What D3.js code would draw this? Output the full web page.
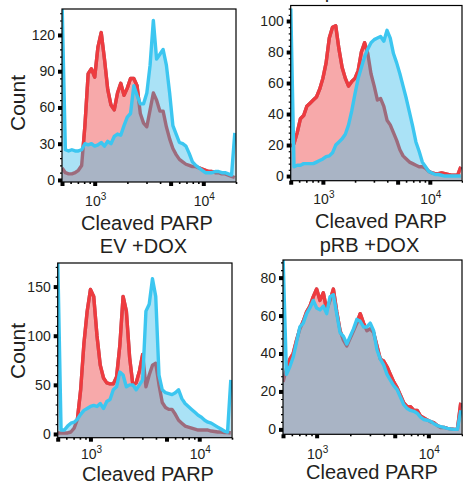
<!DOCTYPE html>
<html>
<head>
<meta charset="utf-8">
<script src="https://cdn.jsdelivr.net/npm/d3@7"></script>
<style>
body { margin: 0; background: #fff; }
svg { display: block; font-family: "Liberation Sans", Arial, sans-serif; }
</style>
</head>
<body>
<div id="chart"></div>
<script>
// bin centres, log10 of Cleaved PARP intensity
var binLog = [2.70,2.73,2.76,2.79,2.82,2.85,2.88,2.91,2.94,2.97,3.00,3.03,3.06,3.09,3.12,3.15,3.18,3.21,3.24,3.27,
    3.30,3.33,3.36,3.39,3.42,3.45,3.48,3.51,3.54,3.57,3.60,3.63,3.66,3.69,3.72,3.75,3.78,3.81,3.84,3.87,
    3.90,3.93,3.96,3.99,4.02,4.05,4.08,4.11,4.14,4.17,4.20,4.23,4.26,4.29];

// EV -DOX
var evMinusRed = [10,6,5,5,6,8,12,45,88,92,85,110,122,100,75,62,58,72,80,70,
    76,84,84,78,55,47,44,58,72,66,57,57,44,34,26,21,17,15,13,12,
    11,11,10,9,8,7,7,6,6,5,5,4,3,2];
var evMinusBlue = [145,25,24,25,24,24,25,30,29,30,28,29,31,28,32,30,36,38,37,45,
    52,55,78,70,63,63,72,95,132,100,104,108,95,72,45,38,31,30,28,22,
    15,12,10,8,6,6,6,7,7,6,6,5,4,39];

// pRB -DOX
var prbMinusRed = [19,21,28,37,39,45,47,49,51,56,63,73,89,96,97,82,70,63,58,61,
    63,68,80,86,79,66,58,49,50,45,36,33,28,23,17,13,11,9,8,7,
    6,6,5,3,2,1.5,1.5,2,1.5,1,0.5,0.5,0.5,6];
var prbMinusBlue = [108,6,7,7,8,8,8,8,9,10,11,12.5,13,15,20,22,24,27,33,42,
    53,63,70,77,82,86,88,89,90,87,94,89,79,73,66,58,50,41,32,22,
    16,9,6,3,2,1,1,0.5,0,0,0,0,0,0];

// EV +DOX
var evPlusRed = [1,1,1,1,2,6,15,45,92,125,147,140,100,70,57,52,51,51,58,90,
    140,125,78,50,52,64,81,48,60,70,72,50,32,27,25,25,20,14,11,8,
    7,6,5,4,4,4,4,3,2.5,2,2,1.5,1.5,1];
var evPlusBlue = [175,4,4,8,11,12,15,20,24,26,28,29,28,31,26,33,35,45,48,63,
    60,48,50,50,45,50,55,125,132,158,140,60,45,42,41,40,42,45,36,31,
    28,25,22,19,17,14,12,11,9,7,5,3,2,55];

// pRB +DOX
var prbPlusRed = [25,32,37,40,47,53,57,62,65,70,74,68,72,63,68,74,62,52,47,44,
    48,52,56,61,56,52,53,51,44,37,36,33,29,25,22,18,14,12,12,10,
    10,7,6,5,4,3.5,2,1,1,0.5,0.2,0,0,14];
var prbPlusBlue = [90,29,33,38,46,54,56,61,64,68,64,63,65,61,70,71,61,51,49,45,
    49,53,58,57,54,54,56,52,42,37,34,29,26,23,21,17,13,11,10,9.5,
    8.5,6.5,5.2,4.8,4.2,3,2,1.5,1,0.5,0.2,0,0,10];

var titles = ["EV -DOX", "pRB -DOX", "EV +DOX", "pRB +DOX"];
var yTicksList = [[0,30,60,90,120], [0,20,40,60,80,100], [0,50,100,150], [0,20,40,60,80]];
var xLabelTicks = [1000, 10000];
var xMajor = [500, 1000, 5000, 10000];
var xTitle = "Cleaved PARP";
var yTitle = "Count";

var colors = {
    red: "#ee3b3f", pink: "#f7a9aa",
    blue: "#3cc6f0", lightBlue: "#aae2f6",
    overlap: "#a9b4c5", mauve: "#9d6b7c",
    text: "#231f20"
};

// layout of the four panels
var panels = [
    {red: evMinusRed, blue: evMinusBlue, left: 62, right: 236, top: 9, bottom: 182, yDomain: [-1.7, 141.5],
        titleY: null, titleX: 149, countY: 103, xLabelX: 147, tickLabelY: 206, xLabelY: 230},
    {red: prbMinusRed, blue: prbMinusBlue, left: 290.7, right: 462, top: 5.5, bottom: 180.7, yDomain: [-3, 110],
        titleY: -2, titleX: 372, countY: null, xLabelX: 381, tickLabelY: 204, xLabelY: 228},
    {red: evPlusRed, blue: evPlusBlue, left: 57.7, right: 232, top: 263, bottom: 437.7, yDomain: [-3.8, 174],
        titleY: 253, titleX: 143.5, countY: 351, xLabelX: 148, tickLabelY: 459, xLabelY: 481},
    {red: prbPlusRed, blue: prbPlusBlue, left: 283, right: 462, top: 260, bottom: 434.3, yDomain: [-2.6, 89.3],
        titleY: 252, titleX: 369.5, countY: null, xLabelX: 372, tickLabelY: 459, xLabelY: 479}
];

var svg = d3.select("#chart").append("svg")
    .attr("width", 463)
    .attr("height", 489);
var defs = svg.append("defs");

function drawPanel(p, idx) {
    var x = d3.scaleLog().domain([500, 20000]).range([p.left, p.right]);
    var y = d3.scaleLinear().domain(p.yDomain).range([p.bottom, p.top]);
    var yTicks = yTicksList[idx];

    var bins = binLog.map(function(l, i) {
        return {v: Math.pow(10, l), red: p.red[i], blue: p.blue[i]};
    });

    defs.append("clipPath").attr("id", "plot" + idx)
        .append("rect")
        .attr("x", p.left).attr("y", p.top)
        .attr("width", p.right - p.left).attr("height", p.bottom - p.top);

    // region above the blue curve, where the red line stays red
    defs.append("clipPath").attr("id", "above" + idx)
        .append("path").datum(bins)
        .attr("d", d3.area().x(d => x(d.v)).y0(p.top - 10).y1(d => y(d.blue)));

    var g = svg.append("g");
    var plot = g.append("g").attr("clip-path", "url(#plot" + idx + ")");

    var areaOf = function(f) {
        return d3.area().x(d => x(d.v)).y0(p.bottom).y1(d => y(f(d)));
    };
    var redLine = d3.line().x(d => x(d.v)).y(d => y(d.red));
    var blueLine = d3.line().x(d => x(d.v)).y(d => y(d.blue));

    plot.append("path").datum(bins).attr("d", areaOf(d => d.red)).attr("fill", colors.pink);
    plot.append("path").datum(bins).attr("d", areaOf(d => d.blue)).attr("fill", colors.lightBlue);
    plot.append("path").datum(bins).attr("d", areaOf(d => Math.min(d.red, d.blue))).attr("fill", colors.overlap);

    plot.append("path").datum(bins).attr("d", redLine)
        .attr("fill", "none").attr("stroke", colors.mauve)
        .attr("stroke-width", 3.4).attr("stroke-linejoin", "round");
    plot.append("g").attr("clip-path", "url(#above" + idx + ")")
        .append("path").datum(bins).attr("d", redLine)
        .attr("fill", "none").attr("stroke", colors.red)
        .attr("stroke-width", 3.4).attr("stroke-linejoin", "round");
    plot.append("path").datum(bins).attr("d", blueLine)
        .attr("fill", "none").attr("stroke", colors.blue)
        .attr("stroke-width", 3.4).attr("stroke-linejoin", "round");

    // frame
    g.append("rect")
        .attr("x", p.left).attr("y", p.top)
        .attr("width", p.right - p.left).attr("height", p.bottom - p.top)
        .attr("fill", "none").attr("stroke", "#000").attr("stroke-width", 1.2);

    // x axis: square ticks for majors, dots for minors
    var xAxis = g.append("g").attr("transform", "translate(0," + p.bottom + ")")
        .call(d3.axisBottom(x).tickValues(x.ticks()).tickSizeOuter(0).tickFormat(""));
    xAxis.select(".domain").remove();
    xAxis.selectAll(".tick line")
        .attr("y2", d => xMajor.indexOf(d) >= 0 ? 4 : 2)
        .attr("stroke-width", d => xMajor.indexOf(d) >= 0 ? 4 : 1.6);

    g.selectAll(".xlab").data(xLabelTicks).enter().append("text")
        .attr("x", d => x(d) + 1)
        .attr("y", p.tickLabelY)
        .attr("text-anchor", "middle")
        .attr("font-size", 14)
        .attr("fill", colors.text)
        .each(function(d) {
            var t = d3.select(this);
            t.append("tspan").text("10");
            t.append("tspan").attr("font-size", 10).attr("dy", -6).text(Math.round(Math.log10(d)));
        });

    // y axis
    var step = yTicks[1] - yTicks[0];
    var minor = d3.range(0, p.yDomain[1], step / 5).filter(v => yTicks.indexOf(v) < 0);
    var yMinor = g.append("g").attr("transform", "translate(" + p.left + ",0)")
        .call(d3.axisLeft(y).tickValues(minor).tickSize(2).tickSizeOuter(0).tickFormat(""));
    yMinor.select(".domain").remove();
    yMinor.selectAll(".tick line").attr("stroke-width", 1.2);

    var yAxis = g.append("g").attr("transform", "translate(" + p.left + ",0)")
        .call(d3.axisLeft(y).tickValues(yTicks).tickSize(4).tickSizeOuter(0).tickPadding(3));
    yAxis.select(".domain").remove();
    yAxis.selectAll(".tick line").attr("stroke-width", 4);
    yAxis.selectAll(".tick text")
        .attr("font-size", 14)
        .attr("font-family", "'Liberation Sans', Arial, sans-serif")
        .attr("fill", colors.text);

    g.append("text")
        .attr("x", p.xLabelX).attr("y", p.xLabelY)
        .attr("text-anchor", "middle")
        .attr("font-size", 20)
        .attr("fill", colors.text)
        .text(xTitle);

    if (p.countY != null) {
        g.append("text")
            .attr("transform", "translate(25," + p.countY + ") rotate(-90)")
            .attr("text-anchor", "middle")
            .attr("font-size", 21)
            .attr("fill", colors.text)
            .text(yTitle);
    }

    if (p.titleY != null) {
        g.append("text")
            .attr("x", p.titleX).attr("y", p.titleY)
            .attr("text-anchor", "middle")
            .attr("font-size", 20)
            .attr("fill", colors.text)
            .text(titles[idx]);
    }
}

panels.forEach(drawPanel);
</script>
</body>
</html>
